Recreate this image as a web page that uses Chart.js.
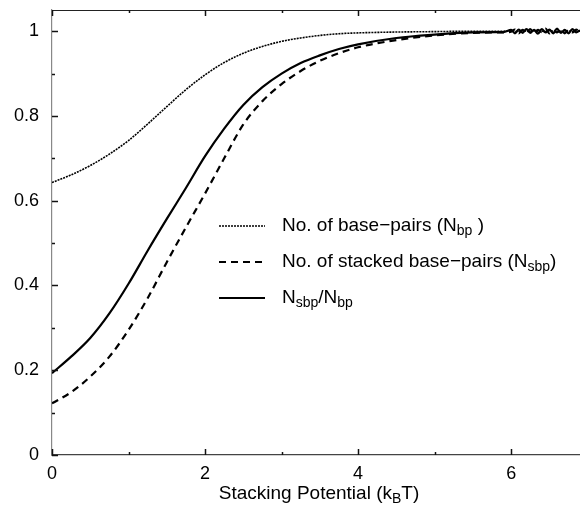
<!DOCTYPE html>
<html lang="en">
<head>
<meta charset="utf-8"/>
<title>Stacking potential</title>
<script src="https://cdn.jsdelivr.net/npm/chart.js"></script>
<style>
    body { margin: 0; background: #fff; }
    .wrap { width: 580px; height: 508px; position: relative; }
  </style>
</head>
<body>
<div class="wrap"><canvas id="stackChart"></canvas></div>
<script>
    // stacking potential (kBT)
    const xValues = [0, 0.25, 0.5, 0.75, 1, 1.25, 1.5, 1.75, 2, 2.25, 2.5, 2.75, 3, 3.25, 3.5, 3.75, 4,
      4.5, 5, 5.5, 5.8, 5.9, 6.0, 6.05, 6.1, 6.15, 6.2, 6.25, 6.3, 6.35, 6.4, 6.45, 6.5, 6.55, 6.6,
      6.65, 6.7, 6.75, 6.8, 6.85, 6.9];

    // No. of base-pairs (Nbp)
    const basePairs = [0.643, 0.661, 0.683, 0.710, 0.742, 0.781, 0.822, 0.862, 0.897, 0.926, 0.948, 0.964,
      0.976, 0.984, 0.990, 0.994, 0.996, 0.998, 0.999, 1.0, 1.0, 1.0, 1.001, 0.999, 1.0, 1.001, 1.0,
      0.999, 1.001, 1.0, 1.0, 0.999, 1.001, 1.0, 0.999, 1.0, 1.001, 1.0, 0.999, 1.001, 1.0];

    // No. of stacked base-pairs (Nsbp)
    const stackedPairs = [0.122, 0.148, 0.185, 0.232, 0.295, 0.370, 0.455, 0.537, 0.617, 0.700, 0.780, 0.835,
      0.875, 0.906, 0.930, 0.948, 0.962, 0.979, 0.990, 0.996, 0.997, 0.997, 0.999, 1.004, 0.995, 1.003,
      0.996, 1.005, 0.995, 1.003, 0.998, 1.006, 0.995, 1.002, 0.997, 1.005, 0.995, 1.003, 0.997, 1.004, 0.997];

    // Nsbp/Nbp
    const ratio = [0.193, 0.232, 0.276, 0.334, 0.404, 0.482, 0.557, 0.630, 0.705, 0.770, 0.826, 0.868,
      0.900, 0.925, 0.943, 0.958, 0.969, 0.984, 0.992, 0.997, 0.998, 0.998, 1.003, 0.995, 1.004, 0.996,
      1.005, 0.996, 1.003, 0.994, 1.005, 0.997, 1.004, 0.995, 1.006, 0.996, 1.003, 0.995, 1.005, 0.997, 1.002];

    const xMajorTicks = [0, 2, 4, 6];
    const xMinorTicks = [1, 3, 5];
    const yMajorTicks = [0, 0.2, 0.4, 0.6, 0.8, 1];
    const yMinorTicks = [0.1, 0.3, 0.5, 0.7, 0.9];

    const FONT = '"Liberation Sans", Arial, Helvetica, sans-serif';

    function pts(ys) {
      return xValues.map((x, i) => ({ x: x, y: ys[i] }));
    }

    // text with subscript parts: [[text, isSub], ...]
    function drawRich(ctx, parts, x, y, size) {
      let cx = x;
      parts.forEach(p => {
        const sub = p[1];
        ctx.font = (sub ? Math.round(size * 0.72) : size) + 'px ' + FONT;
        ctx.fillText(p[0], cx, sub ? y + size * 0.28 : y);
        cx += ctx.measureText(p[0]).width;
      });
      return cx;
    }

    function richWidth(ctx, parts, size) {
      let w = 0;
      parts.forEach(p => {
        ctx.font = (p[1] ? Math.round(size * 0.72) : size) + 'px ' + FONT;
        w += ctx.measureText(p[0]).width;
      });
      return w;
    }

    const legendItems = [
      { dash: [2, 1], width: 1.5, parts: [['No. of base\u2212pairs (N', 0], ['bp', 1], [' )', 0]] },
      { dash: [7, 5], width: 2.2, parts: [['No. of stacked base\u2212pairs (N', 0], ['sbp', 1], [')', 0]] },
      { dash: [], width: 2.2, parts: [['N', 0], ['sbp', 1], ['/N', 0], ['bp', 1]] }
    ];

    const decorPlugin = {
      id: 'decor',
      afterDraw(chart) {
        const ctx = chart.ctx;
        const xs = chart.scales.x, ys = chart.scales.y;
        const a = chart.chartArea;
        ctx.save();
        // top border
        ctx.strokeStyle = '#222';
        ctx.lineWidth = 1;
        ctx.beginPath();
        ctx.moveTo(a.left, a.top + 0.5);
        ctx.lineTo(a.right, a.top + 0.5);
        ctx.stroke();
        // inward ticks
        ctx.strokeStyle = '#111';
        ctx.lineWidth = 1.5;
        const tick = (x1, y1, x2, y2) => { ctx.beginPath(); ctx.moveTo(x1, y1); ctx.lineTo(x2, y2); ctx.stroke(); };
        xMajorTicks.forEach(v => {
          const px = Math.round(xs.getPixelForValue(v)) + 0.5;
          tick(px, a.bottom, px, a.bottom - 6);
          tick(px, a.top, px, a.top + 6);
        });
        xMinorTicks.forEach(v => {
          const px = Math.round(xs.getPixelForValue(v)) + 0.5;
          tick(px, a.bottom, px, a.bottom - 3);
          tick(px, a.top, px, a.top + 3);
        });
        yMajorTicks.forEach(v => {
          const py = Math.round(ys.getPixelForValue(v)) + 0.5;
          tick(a.left, py, a.left + 6, py);
        });
        yMinorTicks.forEach(v => {
          const py = Math.round(ys.getPixelForValue(v)) + 0.5;
          tick(a.left, py, a.left + 3, py);
        });

        // legend
        ctx.fillStyle = '#000';
        ctx.textBaseline = 'middle';
        ctx.textAlign = 'left';
        legendItems.forEach((it, i) => {
          const y = 226 + i * 36;
          ctx.strokeStyle = '#000';
          ctx.lineWidth = it.width;
          ctx.setLineDash(it.dash);
          ctx.beginPath();
          ctx.moveTo(219, y);
          ctx.lineTo(265, y);
          ctx.stroke();
          ctx.setLineDash([]);
          drawRich(ctx, it.parts, 282, y, 19);
        });

        // x axis title
        const title = [['Stacking Potential (k', 0], ['B', 1], ['T)', 0]];
        const w = richWidth(ctx, title, 19);
        drawRich(ctx, title, 319 - w / 2, 494, 19);
        ctx.restore();
      }
    };

    new Chart(document.getElementById('stackChart'), {
      type: 'line',
      data: {
        datasets: [
          { label: 'Nbp', data: pts(basePairs), borderColor: '#000', borderWidth: 1.6, borderDash: [2, 1] },
          { label: 'Nsbp', data: pts(stackedPairs), borderColor: '#000', borderWidth: 2.2, borderDash: [7, 5] },
          { label: 'Nsbp/Nbp', data: pts(ratio), borderColor: '#000', borderWidth: 2.2 }
        ]
      },
      options: {
        responsive: true,
        maintainAspectRatio: false,
        animation: false,
        layout: { padding: { top: 10, right: 0, left: 0, bottom: 0 } },
        elements: {
          point: { radius: 0 },
          line: { cubicInterpolationMode: 'monotone', fill: false }
        },
        plugins: { legend: { display: false }, tooltip: { enabled: false } },
        scales: {
          x: {
            type: 'linear',
            min: 0,
            max: 6.9,
            afterFit(scale) {
              scale.height = 53;
              scale.paddingLeft = 0;
              scale.paddingRight = 0;
            },
            grid: { display: false, drawTicks: false },
            border: { color: '#444', width: 1.2 },
            ticks: {
              stepSize: 2,
              includeBounds: false,
              padding: 8,
              color: '#000',
              font: { size: 18, family: FONT },
              maxRotation: 0
            }
          },
          y: {
            min: 0,
            max: 1.05,
            afterFit(scale) {
              scale.width = 52;
              scale.paddingTop = 0;
              scale.paddingBottom = 0;
            },
            grid: { display: false, drawTicks: false },
            border: { color: '#888', width: 1.2 },
            ticks: {
              stepSize: 0.2,
              includeBounds: false,
              padding: 13,
              color: '#000',
              font: { size: 18, family: FONT },
              callback: v => String(Math.round(v * 10) / 10)
            }
          }
        }
      },
      plugins: [decorPlugin]
    });
  </script>
</body>
</html>
